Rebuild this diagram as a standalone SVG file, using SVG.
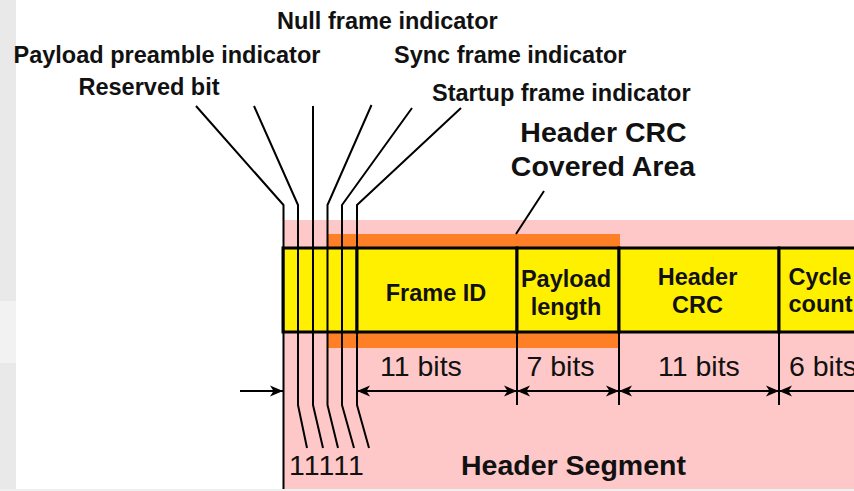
<svg xmlns="http://www.w3.org/2000/svg" width="854" height="491" viewBox="0 0 854 491">
  <style>
    .lbl { font-family: "Liberation Sans", Arial, sans-serif; font-weight: bold; font-size: 23.5px; fill: #111; }
    .big { font-family: "Liberation Sans", Arial, sans-serif; font-weight: bold; font-size: 28.5px; fill: #111; }
    .num { font-family: "Liberation Sans", Arial, sans-serif; font-size: 28.5px; fill: #111; }
    .cell { fill: #fff000; stroke: #000; stroke-width: 3; }
    .lead { fill: none; stroke: #000; stroke-width: 2; stroke-linejoin: round; }
    .dim { fill: none; stroke: #000; stroke-width: 2; }
    .tick { stroke: #000; stroke-width: 2; }
  </style>
  <defs>
    <marker id="arr" markerUnits="userSpaceOnUse" markerWidth="14" markerHeight="12" refX="13" refY="6" orient="auto-start-reverse">
      <path d="M0,0.5 L13,6 L0,11.5 L3.5,6 Z" fill="#000"/>
    </marker>
  </defs>

  <!-- page margins -->
  <rect x="0" y="0" width="854" height="491" fill="#fff"/>
  <rect x="0" y="0" width="16" height="491" fill="#e9e9e9"/>
  <rect x="0" y="301" width="16" height="62" fill="#f2f2f2"/>

  <!-- header segment area -->
  <g id="header-segment">
    <rect x="283" y="220" width="575" height="269" fill="#ffc8c8"/>
    <text class="big" x="461" y="475">Header Segment</text>
  </g>

  <!-- header CRC covered area -->
  <g id="crc-covered-area">
    <rect x="327" y="234" width="293" height="114" fill="#ff7f27"/>
    <text class="big" x="603.5" y="142" text-anchor="middle">Header CRC</text>
    <text class="big" x="603" y="176" text-anchor="middle">Covered Area</text>
  </g>

  <rect x="0" y="489" width="854" height="2" fill="#efefef"/>

  <!-- header fields -->
  <g id="indicator-bits">
    <rect class="cell" x="283" y="248" width="74" height="84"/>
    <text class="num" x="289" y="475" letter-spacing="1">11111</text>
  </g>
  <g id="frame-id">
    <rect class="cell" x="357" y="248" width="160" height="84"/>
    <text class="lbl" x="436" y="301" text-anchor="middle">Frame ID</text>
  </g>
  <g id="payload-length">
    <rect class="cell" x="517" y="248" width="102" height="84"/>
    <text class="lbl" x="566" y="287" text-anchor="middle">Payload</text>
    <text class="lbl" x="566" y="315" text-anchor="middle">length</text>
  </g>
  <g id="header-crc">
    <rect class="cell" x="619" y="248" width="160" height="84"/>
    <text class="lbl" x="697.5" y="285" text-anchor="middle">Header</text>
    <text class="lbl" x="697.5" y="313" text-anchor="middle">CRC</text>
  </g>
  <g id="cycle-count">
    <rect class="cell" x="779" y="248" width="90" height="84"/>
    <text class="lbl" x="788.5" y="285">Cycle</text>
    <text class="lbl" x="788.5" y="312">count</text>
  </g>

  <!-- indicator labels -->
  <g id="label-null-frame"><text class="lbl" x="277" y="28.5">Null frame indicator</text></g>
  <g id="label-payload-preamble"><text class="lbl" x="13.5" y="63">Payload preamble indicator</text></g>
  <g id="label-sync-frame"><text class="lbl" x="394" y="63">Sync frame indicator</text></g>
  <g id="label-reserved"><text class="lbl" x="78.5" y="95">Reserved bit</text></g>
  <g id="label-startup-frame"><text class="lbl" x="432" y="101">Startup frame indicator</text></g>

  <!-- bit widths -->
  <g id="widths">
    <text class="num" x="380" y="376">11 bits</text>
    <text class="num" x="526.5" y="375.5">7 bits</text>
    <text class="num" x="658" y="375.5">11 bits</text>
    <text class="num" x="789" y="375.5">6 bits</text>
  </g>

  <!-- connectors -->
  <g id="connectors">
    <!-- bit leaders: label, bend, through the field, out to the digit -->
    <polyline class="lead" points="196,106 283.5,205 283.5,489"/>
    <polyline class="lead" points="254,106 298,205 298,405 307,448"/>
    <polyline class="lead" points="313,106 313,405 323,448"/>
    <polyline class="lead" points="371.5,105 327.5,205 327.5,405 338,448"/>
    <polyline class="lead" points="412,108 342,205 342,405 354,448"/>
    <polyline class="lead" points="461,108 357,205 357,405 369,448"/>
    <!-- covered area leader -->
    <line class="lead" x1="544" y1="191" x2="516" y2="234"/>
    <!-- dimension ticks -->
    <line class="tick" x1="517" y1="332" x2="517" y2="405"/>
    <line class="tick" x1="619" y1="332" x2="619" y2="405"/>
    <line class="tick" x1="779" y1="332" x2="779" y2="405"/>
    <!-- dimension arrows -->
    <line class="dim" x1="240" y1="391" x2="283" y2="391" marker-end="url(#arr)"/>
    <line class="dim" x1="357" y1="391" x2="517" y2="391" marker-start="url(#arr)" marker-end="url(#arr)"/>
    <line class="dim" x1="517" y1="391" x2="619" y2="391" marker-start="url(#arr)" marker-end="url(#arr)"/>
    <line class="dim" x1="619" y1="391" x2="779" y2="391" marker-start="url(#arr)" marker-end="url(#arr)"/>
    <line class="dim" x1="779" y1="391" x2="880" y2="391" marker-start="url(#arr)"/>
  </g>
</svg>
